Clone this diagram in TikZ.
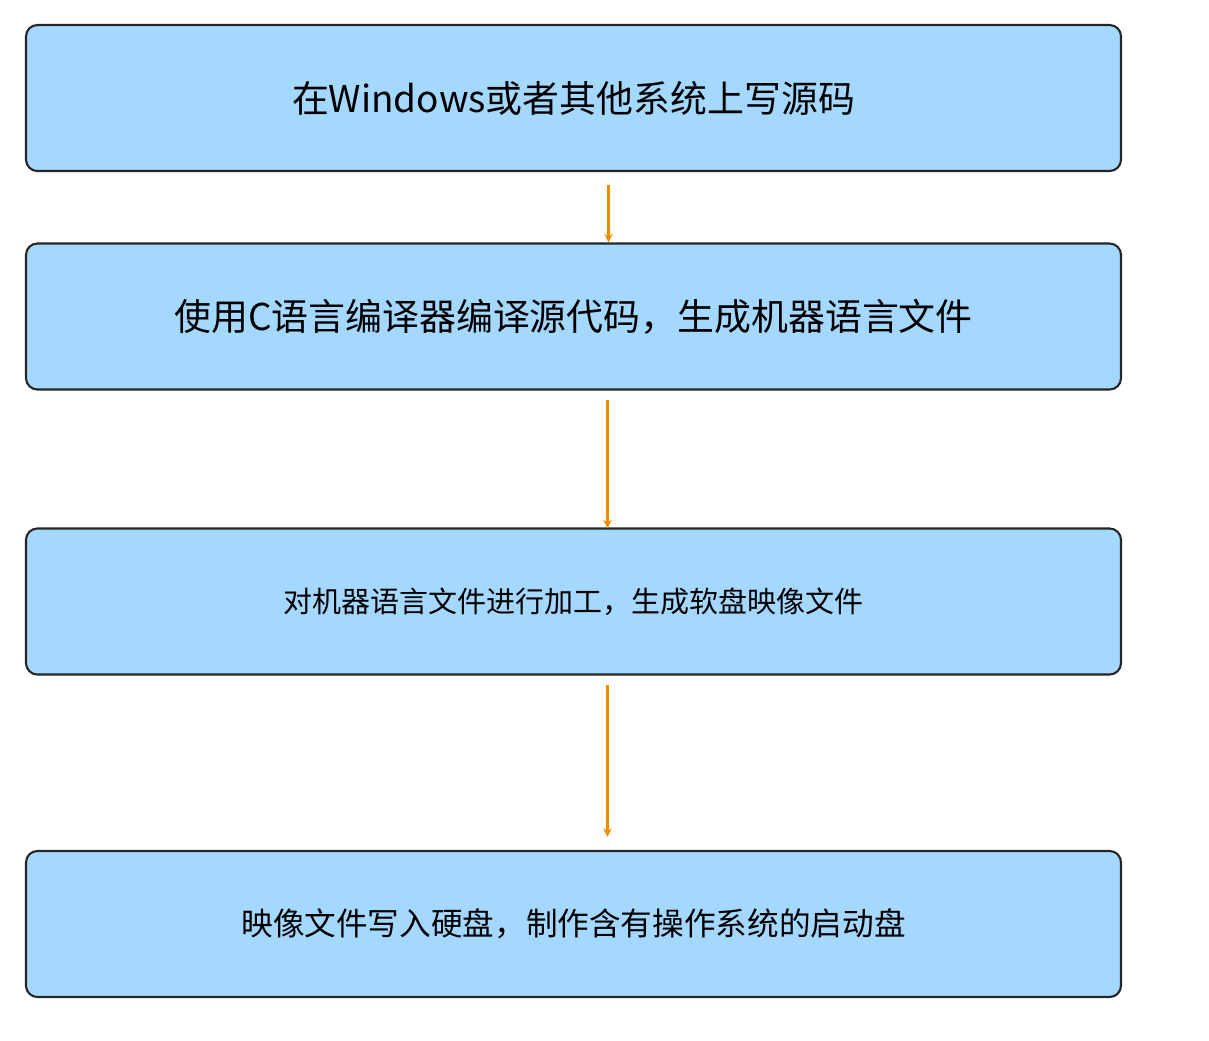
\documentclass[tikz,border=0pt]{standalone}
\usepackage{fontspec}
\newfontfamily\cjk{Noto Sans CJK SC}
\usetikzlibrary{positioning}
\definecolor{boxblue}{HTML}{A5D8FF}
\definecolor{arrorange}{HTML}{F08C00}
\tikzset{
	every node/.style={
		font=\cjk
	},
	stepbox/.style={
		shape=rectangle,
		minimum width=21.9cm,
		minimum height=2.92cm,
		rounded corners=1.5ex,
		fill=boxblue,
		draw=black!85,
		line width=1.2pt,
		text centered
	},
	flow/.style={
		draw=arrorange,
		line width=1.2pt,
		-stealth
	}
}
\begin{document}
\begin{tikzpicture}
	\useasboundingbox (0,0) rectangle (24.18,-20.8);
	
	\node[stepbox, font=\cjk\fontsize{21}{24}\selectfont] (write) at (11.47,-1.96) {在Windows或者其他系统上写源码};
	\node[stepbox, font=\cjk\fontsize{21}{24}\selectfont] (compile) at (11.47,-6.33) {使用C语言编译器编译源代码，生成机器语言文件};
	\node[stepbox, font=\cjk\fontsize{16.5}{20}\selectfont] (image) at (11.47,-12.03) {对机器语言文件进行加工，生成软盘映像文件};
	\node[stepbox, font=\cjk\fontsize{18}{22}\selectfont] (disk) at (11.47,-18.48) {映像文件写入硬盘，制作含有操作系统的启动盘};
	
	\draw[flow] ([xshift=0.7cm, yshift=-0.26cm]write.south) -- ([xshift=0.7cm]compile.north);
	\draw[flow] ([xshift=0.68cm, yshift=-0.18cm]compile.south) -- ([xshift=0.68cm, yshift=-0.02cm]image.north);
	\draw[flow] ([xshift=0.68cm, yshift=-0.18cm]image.south) -- ([xshift=0.68cm, yshift=0.26cm]disk.north);
	
\end{tikzpicture}
\end{document}
